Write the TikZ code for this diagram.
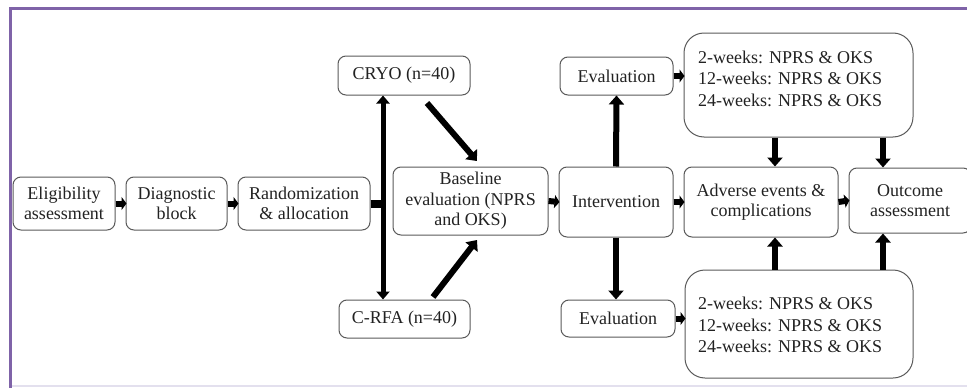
\documentclass[tikz,border=0pt]{standalone}
\usepackage{fontspec}
\setmainfont{Liberation Serif}
\usetikzlibrary{arrows.meta}
\definecolor{frame}{HTML}{7F63A8}
\definecolor{lav}{HTML}{E3E0EE}
\definecolor{boxline}{HTML}{5A5A5A}
\definecolor{txt}{HTML}{222222}
\tikzset{
  box/.style={draw=boxline, line width=1pt, rounded corners=8pt, fill=white, align=center,
    inner sep=0pt, text=txt, font=\fontsize{18}{20.5}\selectfont},
  bigbox/.style={box, rounded corners=20pt, align=left},
  fu/.style={anchor=west, align=left, inner sep=0pt, text=txt, font=\fontsize{18}{21.5}\selectfont},
  shortarr/.style={line width=6pt, -{Triangle[length=5pt,width=13pt]}, shorten >=-1pt},
  longarr/.style={line width=6pt, -{Triangle[length=9pt,width=15pt]}},
  dblarr/.style={line width=5pt, {Triangle[length=8pt,width=13pt]}-{Triangle[length=8pt,width=13pt]}},
}
\begin{document}
\begin{tikzpicture}[x=1pt,y=-1pt]
\useasboundingbox (0,0) rectangle (967,388);
\clip (0,0) rectangle (967,388);
\fill[white] (0,0) rectangle (967,388);
% frame
\draw[lav, line width=2pt] (10,386) -- (967,386);
\draw[frame, line width=3pt] (10,388) -- (10,8.5) -- (967,8.5);

% nodes
\node[box, minimum width=102pt, minimum height=53pt] (elig) at (64,203.5) {Eligibility\\assessment};
\node[box, minimum width=101pt, minimum height=53pt] (diag) at (176.5,203.5) {Diagnostic\\block};
\node[box, minimum width=132pt, minimum height=53pt] (rand) at (304,203.5) {Randomization\\\& allocation};
\node[box, minimum width=132pt, minimum height=39pt] (cryo) at (404,75.5) {CRYO (n=40)};
\node[box, minimum width=131pt, minimum height=38pt] (crfa) at (404.5,319) {C-RFA (n=40)};
\node[box, minimum width=155pt, minimum height=68pt] (base) at (470.5,201) {Baseline\\evaluation (NPRS\\and OKS)};
\node[box, minimum width=114pt, minimum height=70pt] (inter) at (616,202) {Intervention};
\node[box, minimum width=154pt, minimum height=70pt] (adv) at (761,202) {Adverse events \&\\complications};
\node[box, minimum width=122pt, minimum height=65pt] (out) at (910,200.5) {Outcome\\assessment};
\node[box, minimum width=113pt, minimum height=38pt] (evt) at (616.5,76) {Evaluation};
\node[box, minimum width=114pt, minimum height=37pt] (evb) at (618,318.5) {Evaluation};
\node[bigbox, minimum width=229pt, minimum height=104pt] (fut) at (798.5,85) {};
\node[bigbox, minimum width=228pt, minimum height=108pt] (fub) at (799,324) {};
\node[fu] (futt) at (698,78.5) {2-weeks: NPRS \& OKS\\12-weeks: NPRS \& OKS\\24-weeks: NPRS \& OKS};
\node[fu] (fubt) at (698,325) {2-weeks: NPRS \& OKS\\12-weeks: NPRS \& OKS\\24-weeks: NPRS \& OKS};

% connectors
\draw[shortarr] (elig.east) -- (diag.west);
\draw[shortarr] (diag.east) -- (rand.west);
\coordinate (bar) at (385,203.5);
\draw[line width=8pt] (rand.east) -- (bar);
\draw[dblarr] (cryo.south -| 383,0) -- (crfa.north -| 383,0);
\coordinate (d1s) at (427,103);
\coordinate (d1e) at (477,161);
\coordinate (d2s) at (433,297);
\coordinate (d2e) at (477,240);
\draw[longarr] (d1s) -- (d1e);
\draw[longarr] (d2s) -- (d2e);
\draw[shortarr] (base.east) -- (inter.west);
\draw[shortarr] (inter.east) -- (adv.west);
\draw[shortarr] (adv.east) -- (out.west);
\draw[longarr] (inter.north) -- (evt.south);
\draw[longarr] (inter.south -| 616,0) -- (evb.north -| 616,0);
\draw[shortarr] (evt.east) -- (fut.west |- evt.east);
\draw[shortarr] (evb.east) -- (fub.west |- evb.east);
\draw[longarr] (fut.south -| 775,0) -- (adv.north -| 775,0);
\draw[longarr] (fut.south -| 883,0) -- (out.north -| 883,0);
\draw[longarr] (fub.north -| 775,0) -- (adv.south -| 775,0);
\draw[longarr] (fub.north -| 883,0) -- (out.south -| 883,0);
\end{tikzpicture}
\end{document}
